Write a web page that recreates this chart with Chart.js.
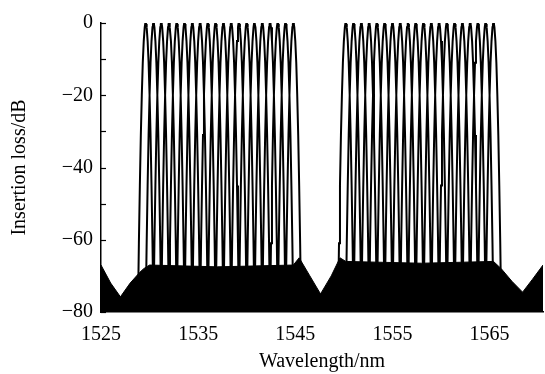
<!DOCTYPE html>
<html>
<head>
<meta charset="utf-8">
<script src="https://cdn.jsdelivr.net/npm/chart.js@4"></script>
<style>
  body { margin: 0; background: #fff; }
</style>
</head>
<body>
<canvas id="chart" width="545" height="374"></canvas>
<script>
// Channel centre wavelengths (nm)
const channelCenters = [
  1529.6, 1530.4, 1531.2, 1532.0, 1532.8, 1533.6, 1534.4, 1535.2, 1536.0, 1536.8,
  1537.6, 1538.4, 1539.2, 1540.0, 1540.8, 1541.6, 1542.4, 1543.2, 1544.0, 1544.8,
  1550.2, 1551.0, 1551.8, 1552.6, 1553.4, 1554.2, 1555.0, 1555.8, 1556.6, 1557.4,
  1558.2, 1559.0, 1559.8, 1560.6, 1561.4, 1562.2, 1563.0, 1563.8, 1564.6, 1565.4
];

// Shape of one channel passband: offset from centre (nm) and loss (dB)
const peakOffset = [-0.8, -0.7, -0.6, -0.5, -0.4, -0.3, -0.2, -0.1, -0.05, 0,
                    0.05, 0.1, 0.2, 0.3, 0.4, 0.5, 0.6, 0.7, 0.8];
const peakLoss   = [-80, -61, -45, -31, -20, -11, -5, -1.2, -0.3, 0,
                    -0.3, -1.2, -5, -11, -20, -31, -45, -61, -80];

// Top edge of the black crosstalk floor
const floorWave = [1525, 1526, 1527, 1528, 1529, 1529.4, 1530, 1537, 1544.8, 1545.4,
                   1546.5, 1547.6, 1548.7, 1549.6, 1550.2, 1558, 1565.4, 1566.2,
                   1567.3, 1568.4, 1569.4, 1570.5];
const floorLoss = [-67, -72, -75.8, -72, -69, -68, -67, -67.5, -67, -65,
                   -70, -75, -70, -65, -66, -66.5, -66, -68,
                   -71.5, -74.5, -71, -67];

const xTicks = [1525, 1535, 1545, 1555, 1565];
const yTicks = [0, -20, -40, -60, -80];

const FONT = { family: "'Liberation Serif', 'Times New Roman', serif", size: 20 };

/* ============================
   BUILD DATASETS
============================ */

// all channels in one line dataset, separated by gaps
const peakPoints = [];
channelCenters.forEach((c) => {
  peakOffset.forEach((o, i) => peakPoints.push({ x: c + o, y: peakLoss[i] }));
  peakPoints.push({ x: c + 0.81, y: null });
});

const floorPoints = floorWave.map((w, i) => ({ x: w, y: floorLoss[i] }));

// inward tick marks on the left axis
const innerTicks = {
  id: "innerTicks",
  afterDatasetsDraw(chart) {
    const { ctx, chartArea, scales } = chart;
    ctx.save();
    ctx.strokeStyle = "#000";
    ctx.lineWidth = 1.2;
    scales.y.ticks.forEach((t) => {
      const py = Math.round(scales.y.getPixelForValue(t.value)) + 0.5;
      ctx.beginPath();
      ctx.moveTo(chartArea.left, py);
      ctx.lineTo(chartArea.left + 5, py);
      ctx.stroke();
    });
    ctx.restore();
  },
};

new Chart(document.getElementById("chart"), {
  type: "line",
  data: {
    datasets: [
      {
        data: peakPoints,
        borderColor: "#000",
        borderWidth: 2,
        pointRadius: 0,
        fill: false,
        spanGaps: false,
        tension: 0,
      },
      {
        data: floorPoints,
        borderColor: "#000",
        borderWidth: 1,
        backgroundColor: "#000",
        pointRadius: 0,
        fill: "start",
        tension: 0,
      },
    ],
  },
  options: {
    responsive: false,
    animation: false,
    devicePixelRatio: 1,
    layout: { padding: { top: 23, right: 2, left: 0, bottom: 0 } },
    plugins: { legend: { display: false }, tooltip: { enabled: false } },
    scales: {
      x: {
        type: "linear",
        min: 1525,
        max: 1570.5,
        afterBuildTicks: (scale) => {
          scale.ticks = xTicks.map((v) => ({ value: v }));
        },
        afterFit: (scale) => {
          scale.height = 62;
        },
        grid: { drawOnChartArea: false, drawTicks: false },
        border: { display: true, color: "#000", width: 1.5 },
        ticks: {
          color: "#000",
          font: FONT,
          padding: 11,
          maxRotation: 0,
          autoSkip: false,
          callback: (v) => String(v),
        },
        title: {
          display: true,
          text: "Wavelength/nm",
          color: "#000",
          font: FONT,
          padding: { top: 1, bottom: 0 },
        },
      },
      y: {
        min: -80,
        max: 0,
        afterFit: (scale) => {
          scale.width = 101;
        },
        grid: { drawOnChartArea: false, drawTicks: false },
        border: { display: true, color: "#000", width: 1.5 },
        ticks: {
          stepSize: 10,
          autoSkip: false,
          color: "#000",
          font: FONT,
          padding: 8,
          callback: (v) => {
            if (!yTicks.includes(v)) return "";
            return v === 0 ? "0" : "\u2212" + Math.abs(v);
          },
        },
        title: {
          display: true,
          text: "Insertion loss/dB",
          color: "#000",
          font: FONT,
          padding: { top: 8, bottom: 0 },
        },
      },
    },
  },
  plugins: [innerTicks],
});
</script>
</body>
</html>
